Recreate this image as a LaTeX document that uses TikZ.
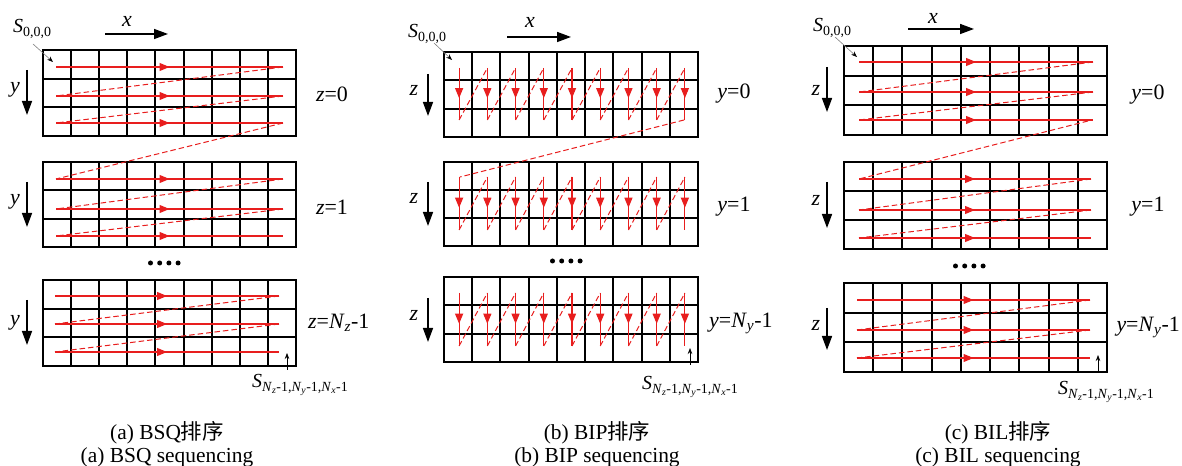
\documentclass[tikz,border=0pt]{standalone}
\usepackage{fontspec}
\setmainfont{Liberation Serif}
\newfontfamily\cjk{Noto Sans CJK SC}
\usetikzlibrary{arrows.meta,decorations.markings}
\definecolor{seqred}{RGB}{232,30,30}
\tikzset{
 gridline/.style={line width=1.5bp, black},
 redline/.style={seqred, line width=1.1bp},
 reddash/.style={seqred, line width=1.0bp, dash pattern=on 5.5bp off 3bp},
 midarrow/.style={postaction={decorate}, decoration={markings, mark=at position #1 with {\arrow{Triangle[length=10bp,width=8bp]}}}},
 axisarrow/.style={black, line width=1.5bp, -{Triangle[length=14bp,width=10bp]}},
 leader/.style={gray, line width=0.6bp, -{Stealth[black,length=6bp,width=4.5bp]}},
 endarrow/.style={black, line width=0.7bp, -{Stealth[length=6bp,width=4.5bp]}},
 lbl/.style={font=\fontsize{22}{26}\selectfont, inner sep=0pt},
 slbl/.style={font=\fontsize{20}{24}\selectfont, inner sep=0pt},
 captext/.style={font=\fontsize{21.5}{26}\selectfont, inner sep=0pt},
}
\newcommand\seqgrid[4]{%
 \draw[gridline] (#1,#3) rectangle (#2,#4);
 \foreach \i in {1,...,8} {\draw[gridline] ({round(#1+\i*(#2-#1)/9)},#3) -- ({round(#1+\i*(#2-#1)/9)},#4);}
 \foreach \j in {1,2} {\draw[gridline] (#1,{round(#3+\j*(#4-#3)/3)}) -- (#2,{round(#3+\j*(#4-#3)/3)});}
}
\newcommand\rowscan[5]{% xl xr y1 y2 y3
 \draw[redline,midarrow=0.5] (#1,#3) -- (#2,#3);
 \draw[redline,midarrow=0.5] (#1,#4) -- (#2,#4);
 \draw[redline,midarrow=0.5] (#1,#5) -- (#2,#5);
 \draw[reddash] (#2,#3) -- (#1,#4);
 \draw[reddash] (#2,#4) -- (#1,#5);
}
\newcommand\colscan[4]{% gridleft gridright ytop ybot
 \foreach \i in {0,...,8} {\draw[redline,midarrow=0.58] ({#1+1+(\i+0.5)*(#2-#1)/9},#3) -- ({#1+1+(\i+0.5)*(#2-#1)/9},#4);}
 \foreach \i in {0,...,7} {\draw[reddash] ({#1+1+(\i+0.5)*(#2-#1)/9},#4) -- ({#1+1+(\i+1.5)*(#2-#1)/9},#3);}
}
\newcommand\Send{\textit{S}\textsubscript{\textit{N}\textsubscript{\textit{z}}-1,\textit{N}\textsubscript{\textit{y}}-1,\textit{N}\textsubscript{\textit{x}}-1}}
\begin{document}
\begin{tikzpicture}[x=1bp,y=-1bp]
\useasboundingbox (0,0) rectangle (1182,466);
% ================= (a) BSQ =================
\seqgrid{43}{296}{50}{136}
\seqgrid{43}{296}{162}{247}
\seqgrid{43}{296}{280}{366}
\rowscan{56}{283}{67}{96}{123}
\rowscan{56}{283}{179}{209}{236}
\rowscan{55}{279}{296}{324}{352}
\draw[reddash] (283,123) -- (56,179);
\foreach \k in {0,...,3} {\fill ({150.5+\k*9.2},263) circle (2.5);}
\coordinate (ax1) at (105,34); \coordinate (ax2) at (168,34);
\draw[axisarrow] (ax1) -- (ax2);
\node[lbl] (axl) at (127,21) {\textit{x}};
\draw[axisarrow] (27,70) -- (27,115);
\draw[axisarrow] (27,182) -- (27,227);
\draw[axisarrow] (27,300) -- (27,345);
\node[lbl] (ay1) at (15,90) {\textit{y}};
\node[lbl] (ay2) at (15,202) {\textit{y}};
\node[lbl] (ay3) at (15,323) {\textit{y}};
\node[lbl] (az0) at (332,94) {\textit{z}=0};
\node[lbl] (az1) at (332,207) {\textit{z}=1};
\node[lbl,anchor=west] (azn) at (308,323) {\textit{z}=\textit{N}\textsubscript{\textit{z}}-1};
\node[slbl,anchor=base west] (sa0) at (13,33) {\textit{S}\textsubscript{0,0,0}};
\draw[leader] (33,44) -- (53,62);
\node[slbl,anchor=base west] (sae) at (252,388) {\Send};
\draw[endarrow] (287,370) -- (287,353);
\node[captext] (capa1) at (167,433) {(a) BSQ{\cjk 排序}};
\node[captext] (capa2) at (167,457) {(a) BSQ sequencing};
% ================= (b) BIP =================
\seqgrid{444}{698}{52}{137}
\seqgrid{444}{698}{162}{246}
\seqgrid{444}{698}{277}{362}
\colscan{444}{698}{68}{120}
\colscan{444}{698}{177}{230}
\colscan{444}{698}{293}{346}
\draw[reddash] (684,120) -- (460,177);
\foreach \k in {0,...,3} {\fill ({552.5+\k*9.2},261) circle (2.5);}
\draw[axisarrow] (507,37) -- (571,37);
\node[lbl] (bxl) at (530,22) {\textit{x}};
\draw[axisarrow] (428,74) -- (428,116);
\draw[axisarrow] (428,182) -- (428,226);
\draw[axisarrow] (428,298) -- (428,342);
\node[lbl] (bz1) at (414,90) {\textit{z}};
\node[lbl] (bz2) at (414,198) {\textit{z}};
\node[lbl] (bz3) at (414,315) {\textit{z}};
\node[lbl] (by0) at (734,94) {\textit{y}=0};
\node[lbl] (by1) at (734,207) {\textit{y}=1};
\node[lbl,anchor=west] (byn) at (709,323) {\textit{y}=\textit{N}\textsubscript{\textit{y}}-1};
\node[slbl,anchor=base west] (sb0) at (408,38) {\textit{S}\textsubscript{0,0,0}};
\draw[leader] (434,43) -- (452,60);
\node[slbl,anchor=base west] (sbe) at (642,390) {\Send};
\draw[endarrow] (690,365) -- (690,348);
\node[captext] (capb1) at (597,433) {(b) BIP{\cjk 排序}};
\node[captext] (capb2) at (597,457) {(b) BIP sequencing};
% ================= (c) BIL =================
\seqgrid{844}{1107}{46}{135}
\seqgrid{844}{1107}{162}{249}
\seqgrid{844}{1107}{283}{372}
\rowscan{859}{1093}{62}{92}{120}
\rowscan{859}{1091}{179}{210}{238}
\rowscan{857}{1090}{300}{330}{358}
\draw[reddash] (1088,121) -- (859,179);
\foreach \k in {0,...,3} {\fill ({955.5+\k*9.2},266) circle (2.5);}
\draw[axisarrow] (908,29) -- (974,29);
\node[lbl] (cxl) at (933,18) {\textit{x}};
\draw[axisarrow] (827,67) -- (827,112);
\draw[axisarrow] (827,182) -- (827,228);
\draw[axisarrow] (827,308) -- (827,350);
\node[lbl] (cz1) at (816,90) {\textit{z}};
\node[lbl] (cz2) at (816,200) {\textit{z}};
\node[lbl] (cz3) at (816,325) {\textit{z}};
\node[lbl] (cy0) at (1148,95) {\textit{y}=0};
\node[lbl] (cy1) at (1148,207) {\textit{y}=1};
\node[lbl,anchor=east] (cyn) at (1180,327) {\textit{y}=\textit{N}\textsubscript{\textit{y}}-1};
\node[slbl,anchor=base west] (sc0) at (813,32) {\textit{S}\textsubscript{0,0,0}};
\draw[leader] (835,37) -- (857,57);
\node[slbl,anchor=base west] (sce) at (1058,395) {\Send};
\draw[endarrow] (1098,372) -- (1098,355);
\node[captext] (capc1) at (998,433) {(c) BIL{\cjk 排序}};
\node[captext] (capc2) at (998,457) {(c) BIL sequencing};
\end{tikzpicture}
\end{document}
